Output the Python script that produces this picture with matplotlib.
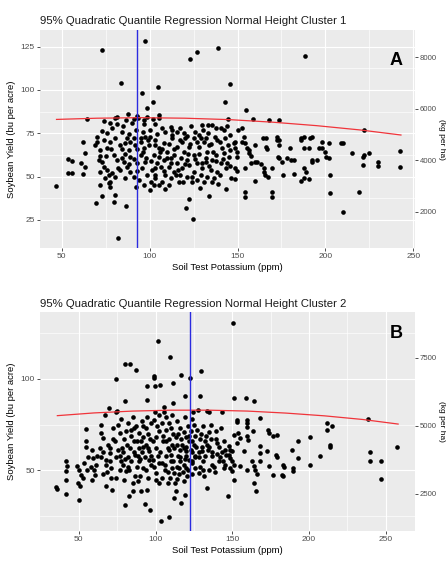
import matplotlib
matplotlib.use('Agg')
import matplotlib.pyplot as plt
import numpy as np

plt.rcParams['font.family'] = ['Liberation Sans', 'DejaVu Sans']

BU_TO_KG = 67.25  # bu/acre -> kg/ha (soybean)

TITLES = ['95% Quadratic Quantile Regression Normal Height Cluster 1',
          '95% Quadratic Quantile Regression Normal Height Cluster 2']
TAGS = ['A', 'B']
XLABEL = 'Soil Test Potassium (ppm)'
YLABEL = 'Soybean Yield (bu per acre)'
Y2LABEL = '(kg per ha)'

# ---- cluster 1 : (soil K ppm, yield bu/acre)
cluster1_points = [
    (72.9, 123.1), (97.6, 128.5), (122.9, 117.7), (126.8, 121.8), (138.7, 124), (188.6, 119.8),
    (83.7, 104.2), (104.9, 101.9), (95.5, 98.4), (145.8, 103.3), (101.8, 93.2), (142.7, 93.2),
    (98.7, 89.4), (154.7, 88.5),
    (64.5, 83.3), (158.9, 83.3), (167.7, 82.7), (173.8, 82.7), (222.2, 76.9), (73.8, 82.2),
    (77.6, 80.7), (78.6, 77.8), (81.4, 84.2), (81.4, 80.3), (87.5, 85.9), (86.7, 82.6), (90, 80.7),
    (90.9, 83), (92.8, 84.9), (93.4, 83.6), (96.7, 82.6), (97, 80.3), (98.6, 84.5), (102, 83),
    (105.2, 83.6), (105.6, 85.5), (102.9, 80.3), (111.9, 78.8), (112.8, 76.9), (109, 75.9),
    (115.7, 75.9), (123.3, 79.2), (119.5, 75.3), (130, 79.7), (135.7, 79.7), (137.6, 77.8),
    (140.5, 77.8), (142.4, 76.9), (144.3, 83), (80.5, 83.6),
    (46.7, 44.5), (53.8, 60.1), (55.7, 59.2), (53.8, 51.9), (55.7, 52.2), (62, 70.2), (63, 63.4),
    (62, 51.3), (61, 57.6), (63, 55.3),
    (71.5, 45.1), (72.8, 38.8), (69.6, 34.5), (80.5, 39.4), (79.5, 35.1), (86.7, 33), (81.8, 14.3),
    (92.5, 44.2), (76.7, 46.1), (77.6, 44.2),
    (100.1, 42.2), (105.2, 45.1), (109, 42.6), (120.8, 31.6), (122.4, 36.9), (124.7, 25.3),
    (128.7, 43.2), (133.8, 38.8), (135.7, 47), (143.3, 42.8),
    (70.9, 59.6), (72.8, 58.6), (73.8, 55.7), (71.9, 52.8), (75.7, 53.8), (76.7, 50.9), (78.6, 51.9),
    (80.5, 49.9), (74.7, 49), (77.6, 47.1), (83.3, 53.8), (86.2, 49), (87.1, 55.7), (85.2, 58.6),
    (81.4, 59.6), (79.5, 62.5), (75.7, 66.3), (77.6, 70.2), (80.5, 72.1), (83.3, 68.2), (86.2, 69.2),
    (88.1, 65.3), (89, 61.5), (89, 52.8), (90.9, 49.9), (70, 70.2), (71.9, 65.3), (69, 68.2),
    (94.8, 70.2), (96.7, 66.3), (94.8, 62.5), (97.6, 58.6), (95.7, 54.8), (98.6, 50.9), (100.5, 47.1),
    (102.4, 45.1), (103.3, 49), (101.4, 53.8), (104.3, 57.6), (102.4, 62.5), (105.2, 66.3),
    (103.3, 71.1), (108.1, 69.2), (110, 64.4), (108.1, 59.6), (110.9, 55.7), (109, 50.9), (111.9, 49),
    (113.8, 52.8), (115.7, 57.6), (113.8, 62.5), (115.7, 67.3), (112.8, 72.1), (118.6, 70.2),
    (119.5, 64.4), (121.4, 59.6), (118.6, 54.8), (121.4, 49.9), (124.3, 47.1), (125.2, 52.8),
    (127.1, 57.6), (125.2, 62.5), (128.1, 67.3), (125.2, 72.1), (131, 70.2), (132.9, 64.4),
    (131.9, 58.6), (134.8, 53.8), (132.9, 49.9), (136.7, 49), (138.6, 52.8), (140.5, 57.6),
    (137.6, 62.5), (141.4, 66.3), (138.6, 71.1), (144.3, 68.2), (145.2, 61.5), (143.3, 54.8),
    (146.2, 49), (97.6, 73), (91.9, 68.2), (92.8, 57.6),
    (106.6, 55.7), (112.3, 60.5), (117.2, 50.9), (122.4, 56.7), (130, 54.8), (135.7, 59.6),
    (142.4, 63.4), (133.8, 68.2), (122.4, 67.3), (105.2, 61.5), (99.5, 68.2), (129, 50.9),
    (116.7, 47.1), (107.1, 47.1),
    (84, 76), (88, 74.5), (92, 77), (96, 76), (100, 77), (104, 74.5), (107, 78), (117, 78),
    (121, 73.5), (126, 76), (128, 74), (133, 75), (146, 74), (150, 77), (100, 73), (91, 72.5),
    (85, 79), (76, 75), (73, 76.5), (70, 73),
    (86, 63), (88, 57), (91, 60), (93, 53), (96, 64), (98, 61), (101, 59), (103, 55), (106, 64),
    (108, 53), (110, 61), (112, 58), (114, 66), (116, 54), (118, 61), (120, 57), (122, 63),
    (124, 50), (126, 60), (128, 63), (130, 58), (132, 61), (134, 56), (136, 64), (138, 59),
    (140, 51), (142, 60), (144, 58), (146, 56), (84, 66), (87, 72), (89, 70), (93, 66), (95, 72),
    (99, 71), (103, 68), (107, 66), (111, 69), (113, 74), (117, 71), (120, 72), (123, 69),
    (127, 70), (129, 72), (132, 72), (135, 69), (137, 73), (140, 70), (143, 72), (94, 48),
    (97, 45), (103, 51), (111, 45), (115, 51), (119, 47), (127, 48), (131, 47), (139, 46),
    (82, 55), (84, 61), (78, 66), (75, 62), (72, 62), (74, 71),
    (210.3, 69.2), (214.9, 63.4), (221.2, 61.5), (222.2, 62.5), (225, 63.4), (221.2, 56.7),
    (229.8, 58.2), (229.8, 56.3), (242.7, 65), (242.7, 55.3), (218.9, 40.9), (210.3, 29.3),
    (202.7, 40.3), (202.7, 50.9), (202.2, 60.5), (200.2, 61.5), (199.9, 64.4), (197.8, 69.8),
    (196.4, 66.3), (198, 66.3), (195.1, 59.6), (192.2, 59.6), (192.2, 58.2), (190.7, 66.7),
    (187.9, 66.7), (187.9, 73), (192.2, 73), (186, 71.1), (190.7, 48.4), (186, 47.6), (187.9, 49.4),
    (188.8, 52.4), (187.9, 54.8), (182.1, 51.3), (179.9, 66.7), (180.2, 59.6), (182.1, 59.6),
    (178, 60.5), (176.1, 50.9), (175.5, 58.6), (173.6, 60.5), (173.2, 61.5), (173.6, 68.2),
    (173.6, 71.1), (172.6, 73), (169.8, 54.8), (169.4, 40.9), (169.4, 38.4), (167.3, 49.6),
    (165.4, 50.9), (165, 52.8), (165, 54.8), (166.3, 67.3), (166.9, 65.9), (166, 72.1),
    (163.1, 57.1), (161.2, 58.6), (159.9, 58.2), (159.9, 47.4), (157.4, 57.6), (154.5, 54.8),
    (154.5, 40.9), (154.5, 38.4), (159.9, 68.2), (156.8, 63.4), (156.8, 65.3), (155.5, 66.3),
    (157.4, 62.1), (154.1, 69.2), (152.6, 70.2), (148.8, 70.2), (147.9, 69.2), (146, 65.3),
    (148.8, 66.3), (149.8, 64.4), (149.8, 61.5), (148.8, 54.8), (149.8, 53.2), (148.8, 48.4),
    (209.1, 69.2), (153.6, 73), (152.3, 78.2), (143.8, 79), (133.3, 79.6), (130.5, 76.8),
    (172.2, 71), (164.6, 72), (186.4, 72), (191.2, 72), (202.1, 69.2),
]

# ---- cluster 2
cluster2_points = [
    (35.1, 40.6), (35.6, 39.6),
    (41.6, 55.2), (41.6, 49.4), (41.6, 44.8), (41.6, 37), (42, 52.5),
    (48.5, 52.1), (50.2, 50.3), (49.6, 43), (50.6, 41.2), (50, 33.9), (52.8, 45.7), (51.5, 47.5),
    (53.2, 54), (55, 50.3), (54.5, 72.8), (54.5, 65.8), (54.5, 62.5), (55.8, 57),
    (58.8, 61.3), (59.3, 56.7), (58.8, 44.8), (59.9, 50.3), (60.5, 47.5), (61, 53),
    (64.3, 75), (64.3, 70.4), (65.8, 67.6), (64.7, 57.1), (67.5, 55.8), (67.9, 53.1), (67.9, 41.2),
    (66.8, 80.5), (63.5, 62), (66, 48),
    (70.1, 59.4), (71.2, 51.2), (71.2, 45.7), (71.8, 39.4), (69.6, 84.1), (69, 64), (72, 73),
    (70.5, 55), (68.5, 49),
    (75.5, 75), (76.6, 70.4), (75.5, 61.3), (77.6, 54.9), (76.6, 50.3), (74, 82), (75, 82.3),
    (74, 100.2), (73.5, 66), (77, 58), (74.5, 46), (77.5, 78),
    (80.4, 31.2), (79.5, 44.8), (81, 49.4), (80.9, 71.3), (80.4, 88), (80.4, 108.4), (79, 60),
    (81.5, 64), (78.5, 53), (82, 57), (79.5, 67), (82, 76),
    (83, 35.7), (85.2, 38.5), (85.2, 43), (84.1, 54.9), (86.3, 58.5), (84.1, 72.2), (87.3, 74),
    (83.5, 108.4), (87.3, 104.8), (83.5, 62), (86, 66), (83, 50), (86.5, 47), (85, 79),
    (89.5, 70.4), (90.6, 65.8), (90.6, 38.8), (89.5, 62.2), (89.5, 54.9), (91.7, 51.2), (88.5, 58),
    (90, 47), (92, 74), (91, 77), (88.5, 44), (92, 68),
    (93.8, 73.1), (94.3, 39.4), (93.4, 31.5), (96.4, 28), (96, 60.3), (95.5, 55.8), (94.5, 96.2),
    (94.5, 88.7), (94, 64), (96.5, 67), (93.5, 50), (95, 46), (97, 76), (94.5, 79), (97, 53),
    (98.1, 55.8), (100.3, 48.5), (100.3, 44.8), (102.5, 43), (99.2, 77.7), (102.5, 71.3),
    (98.8, 101.5), (98.8, 100.6), (99.9, 96.2), (102.9, 96.6), (101.8, 120.8), (99.9, 82),
    (100.5, 62), (98.5, 66), (101.5, 58), (99, 52), (101, 74), (102, 80),
    (103.5, 22), (104.6, 65.8), (107.9, 62.2), (105.7, 84.7), (105.7, 82), (107.9, 43), (104, 46),
    (106, 50), (104.5, 54), (106.5, 58), (105, 69), (107, 72), (104, 76), (106.5, 79),
    (108.9, 24.4), (110, 58.5), (111.1, 54.9), (112.2, 48.5), (112.8, 43), (109.4, 112.1),
    (111.5, 98), (111.5, 86.9), (109, 61), (110.5, 64), (109, 67), (111.5, 70), (110, 73), (109, 76),
    (110.5, 51), (109.5, 46), (111, 80),
    (113.3, 38.4), (112.2, 34.8), (116.5, 32.1), (116.5, 102), (114, 45), (115.5, 48), (114, 52),
    (116, 55), (114.5, 58), (116, 61), (114, 64), (116.5, 67), (114.5, 70), (116, 73), (114, 77),
    (119.3, 36.6), (119.7, 60.3), (119.7, 51.2), (121.5, 55.8), (121.9, 65.8), (119.1, 90.5),
    (122.3, 100.6), (118.5, 44), (120.5, 47), (118.5, 53), (120, 58), (118.5, 62), (120, 68),
    (118.5, 71), (121, 74), (119, 79),
    (123, 71.3), (124.7, 82), (127.7, 82.9), (124, 48), (126, 51), (123.5, 54), (125.5, 57),
    (124, 60), (126.5, 63), (124, 66), (126, 69), (125, 75), (123.5, 78),
    (128.4, 48.5), (131.6, 46.7), (130.5, 60.3), (128.8, 90.5), (129.5, 104.4), (129, 52),
    (131, 55), (128.5, 57), (130, 63), (132, 66), (129.5, 70), (131, 74),
    (133.8, 40.3), (133.8, 64), (137, 57.6), (135.9, 75), (133.8, 82.3), (134.8, 82), (135, 50),
    (136.5, 53), (134, 61), (136, 67), (134.5, 71),
    (139.2, 71.3), (142.4, 73.1), (141.3, 54.9), (139, 49), (140, 59), (141.5, 63), (139.5, 67),
    (144.6, 51.2), (147.4, 35.7), (143.5, 82), (147.6, 63.1), (146, 58.5), (144, 55), (145.5, 61),
    (144.5, 66),
    (86, 60), (88, 52), (90, 56), (92, 63), (95, 70), (97, 58), (100, 68), (102, 54), (103, 60),
    (106, 53), (107, 66), (108, 49), (110, 55), (112, 62), (113, 68), (115, 51), (116, 57),
    (117, 64), (118, 49), (119, 56), (120, 63), (121, 50), (122, 69), (123, 61), (124, 55),
    (125, 64), (126, 58), (127, 72), (128, 60), (129, 67), (131, 50), (132, 58), (133, 69),
    (135, 63), (137, 60), (138, 52), (140, 65), (142, 57), (143, 60), (145, 53), (78, 62),
    (80, 56), (82, 52), (84, 69), (86, 73), (88, 66), (91, 60), (93, 57), (95, 62), (72, 67),
    (74, 57), (70, 62), (66, 60), (62, 58), (58, 52),
    (148.7, 61.3), (149.7, 60.4), (147.6, 58.5), (148.7, 56.7), (149.7, 54.9), (150.8, 53.1),
    (148.7, 51.2), (149.7, 49.4), (150.8, 44.8), (150.8, 69.5), (150.4, 130.8), (150.8, 89.6),
    (153, 77.4),
    (153, 76.4), (154, 70.4), (155.1, 67.7), (157.3, 60.4), (153, 64.9), (155.1, 52.1),
    (159.5, 75.9), (159.5, 73.5), (159.5, 68.6), (160.5, 66.7), (159.5, 50.3), (162.7, 54.9),
    (159, 89.6), (159.5, 77.4),
    (163.3, 71.3), (163.8, 52.1), (164.9, 50.3), (165.9, 47.9), (163.8, 43), (165.5, 38.5),
    (164.2, 87.8),
    (168.1, 78.6), (168.1, 63.1), (168.1, 59.4), (167.7, 54.9),
    (172.4, 60.4), (174.1, 52.1), (176.3, 47.6), (173.5, 72.2), (174.1, 70.4), (176.7, 68.6),
    (178.9, 69.5), (178.5, 58.5), (179.3, 57.1),
    (182.1, 47.6), (182.8, 46.7), (183.2, 53.1), (183.6, 51.6),
    (188.6, 61.3), (189.7, 51.2), (189.7, 49.4),
    (192.9, 66.2), (192.9, 56.7),
    (200.9, 68.2), (200.9, 53.1),
    (207, 57.6),
    (211.9, 76), (211.9, 72.2), (215.2, 74), (213.9, 63.6), (213.9, 62.5),
    (239.8, 59.8), (239.8, 54.9), (238.6, 78),
    (246.9, 55.2), (246.9, 45.4),
    (257.3, 62.7),
]

# 95% quantile quadratic curves
curve1_k = [47, 70, 95, 120, 145, 170, 195, 220, 243]
curve1_y = [83.0, 83.7, 84.0, 83.7, 82.9, 81.4, 79.4, 76.9, 74.0]
curve2_k = [36, 60, 85, 110, 135, 160, 185, 210, 235, 258]
curve2_y = [79.9, 81.4, 82.4, 82.9, 82.9, 82.4, 81.3, 79.8, 77.8, 75.3]

# critical soil test K (blue line)
crit_k = [92.7, 122.5]

xlims = [(37.6, 251.0), (24.7, 269.0)]
ylims = [(8.8, 134.6), (16.9, 136.5)]
yticks = [[25, 50, 75, 100, 125], [50, 100]]
yminor = [[37.5, 62.5, 87.5, 112.5], [25, 75, 125]]
y2ticks = [[2000, 4000, 6000, 8000], [2500, 5000, 7500]]
xticks = [50, 100, 150, 200, 250]
xminor = [75, 125, 175, 225]

BG = '#EBEBEB'
TICKCOL = '#4D4D4D'


def draw_panel(ax, pts, ck, cy, kcrit, i):
    k, yld = np.array(pts).T
    ax.set_facecolor(BG)
    for s in ax.spines.values():
        s.set_visible(False)
    ax.set_xlim(*xlims[i])
    ax.set_ylim(*ylims[i])
    ax.set_xticks(xticks)
    ax.set_xticks(xminor, minor=True)
    ax.set_yticks(yticks[i])
    ax.set_yticks(yminor[i], minor=True)
    ax.grid(True, which='major', color='white', lw=0.85)
    ax.grid(True, which='minor', color='white', lw=0.45)
    ax.set_axisbelow(True)
    ax.tick_params(which='major', length=2.3, width=0.6, color='#333333',
                   labelsize=6.0, labelcolor=TICKCOL, pad=1.5)
    ax.tick_params(which='minor', length=0)

    ax.scatter(k, yld, s=11, color='black', linewidths=0, zorder=3)
    ax.plot(ck, cy, color='#F0343A', lw=0.9, zorder=4)
    ax.axvline(kcrit, color='#2B2BE0', lw=1.0, zorder=5)

    ax.set_title(TITLES[i], loc='left', fontsize=8.2, pad=4, color='#1A1A1A')
    ax.set_xlabel(XLABEL, fontsize=6.8, labelpad=2)
    ax.set_ylabel(YLABEL, fontsize=6.8, labelpad=3)
    ax.text(0.949, 0.86 if i == 0 else 0.905, TAGS[i], transform=ax.transAxes,
            fontsize=13, fontweight='bold', ha='center', va='center')

    ax2 = ax.twinx()
    for s in ax2.spines.values():
        s.set_visible(False)
    lo, hi = ylims[i]
    ax2.set_ylim(lo * BU_TO_KG, hi * BU_TO_KG)
    ax2.set_yticks(y2ticks[i])
    ax2.tick_params(length=2.2, width=0.6, color='#333333',
                    labelsize=5.6, labelcolor=TICKCOL, pad=1.0)
    ax2.set_ylabel(Y2LABEL, fontsize=6.0, rotation=270, labelpad=0.8, va='bottom')


fig = plt.figure(figsize=(4.48, 5.61), dpi=100)
axA = fig.add_axes([40 / 448, 1 - 248 / 561, 375 / 448, 218 / 561])
axB = fig.add_axes([40 / 448, 1 - 530.7 / 561, 375 / 448, 218.4 / 561])

draw_panel(axA, cluster1_points, curve1_k, curve1_y, crit_k[0], 0)
draw_panel(axB, cluster2_points, curve2_k, curve2_y, crit_k[1], 1)

fig.savefig('out.png', dpi=100)
